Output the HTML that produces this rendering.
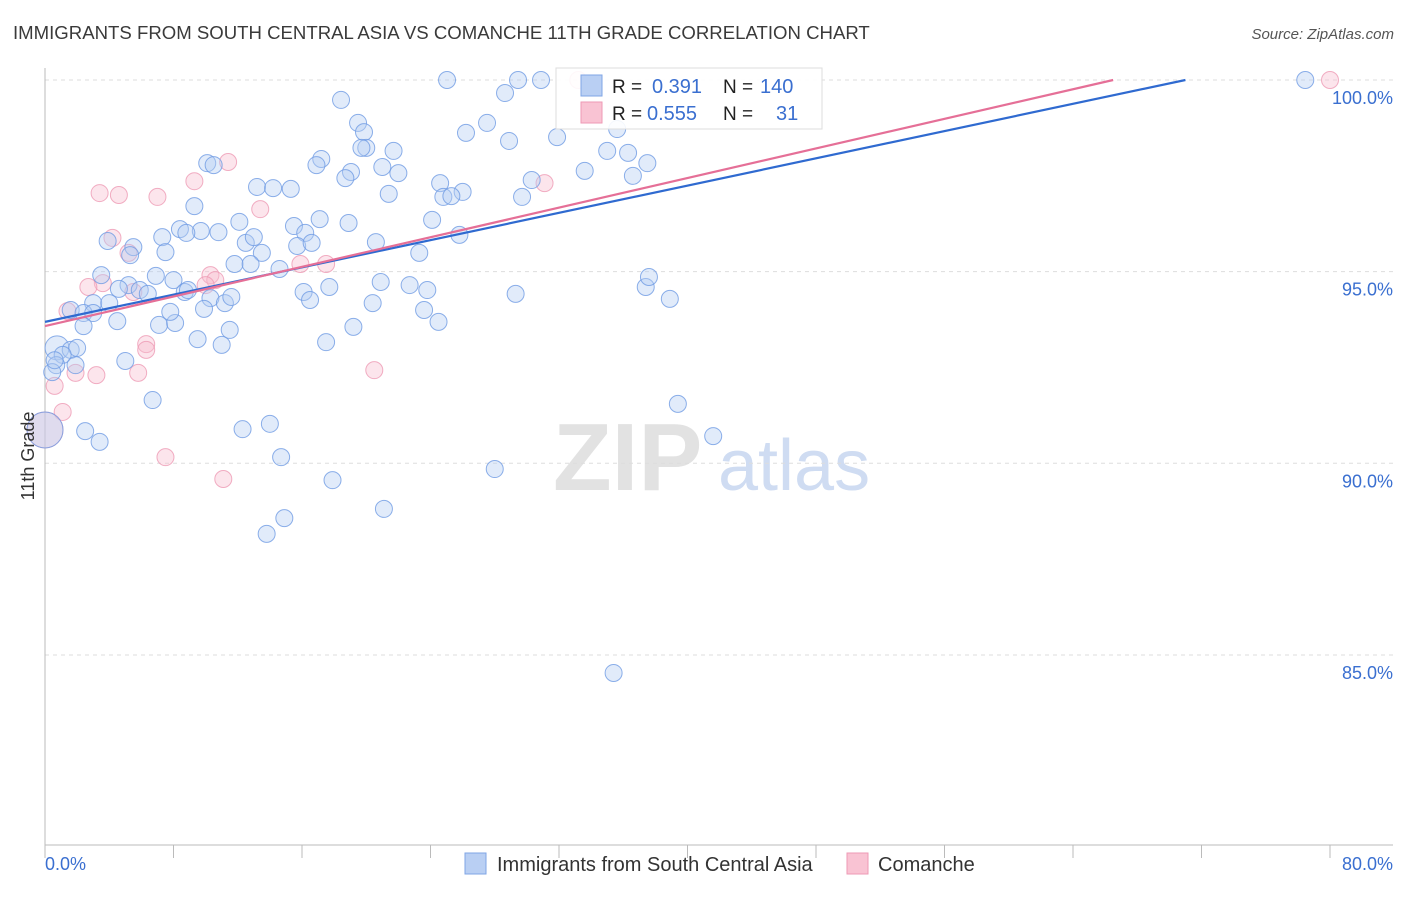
<!DOCTYPE html>
<html><head><meta charset="utf-8"><style>
body{margin:0;background:#fff;font-family:"Liberation Sans",sans-serif;}
svg text{font-family:"Liberation Sans",sans-serif;}
</style></head><body>
<svg id="chart" width="1406" height="892" xmlns="http://www.w3.org/2000/svg">
<text x="13" y="39" font-size="18.6" fill="#3a3a3a">IMMIGRANTS FROM SOUTH CENTRAL ASIA VS COMANCHE 11TH GRADE CORRELATION CHART</text>
<text x="1394" y="39" font-size="15" fill="#555" text-anchor="end" font-style="italic">Source: ZipAtlas.com</text>
<g>
<text x="553" y="490" font-size="96" fill="#e2e2e2" font-family="Liberation Serif" font-weight="bold">ZIP</text>
<text x="718" y="490" font-size="72" fill="#cfdcf2">atlas</text>
</g>
<g id="grid"></g>
<g id="axes"></g>
<g id="pts"></g>
<g id="lines"></g>
<text transform="translate(34,456) rotate(-90)" font-size="18" fill="#333" text-anchor="middle">11th Grade</text>
<g>
<rect x="556" y="68" width="266" height="61" fill="#fff" fill-opacity="0.9" stroke="#ddd"/>
<rect x="581" y="75" width="21" height="21" fill="#b9cff3" stroke="#7fa5e6"/>
<rect x="581" y="102" width="21" height="21" fill="#f9c3d3" stroke="#ee9ab4"/>
<text x="612" y="93" font-size="19" fill="#222">R =</text>
<text x="652" y="93" font-size="20" fill="#3a6fd0">0.391</text>
<text x="723" y="93" font-size="19" fill="#222">N =</text>
<text x="760" y="93" font-size="20" fill="#3a6fd0">140</text>
<text x="612" y="120" font-size="19" fill="#222">R =</text>
<text x="647" y="120" font-size="20" fill="#3a6fd0">0.555</text>
<text x="723" y="120" font-size="19" fill="#222">N =</text>
<text x="776" y="120" font-size="20" fill="#3a6fd0">31</text>
</g>
<g>
<rect x="465" y="853" width="21" height="21" fill="#b9cff3" stroke="#7fa5e6"/>
<text x="497" y="871" font-size="20" fill="#333">Immigrants from South Central Asia</text>
<rect x="847" y="853" width="21" height="21" fill="#f9c3d3" stroke="#ee9ab4"/>
<text x="878" y="871" font-size="20" fill="#333">Comanche</text>
</g>
</svg>
<script>
const yTicks=[100,95,90,85];
const yTickLabels=["100.0%","95.0%","90.0%","85.0%"];
const xTicks=[0,8,16,24,32,40,48,56,64,72,80];
const blueX=[25.03,29.45,30.88,78.46,18.43,28.64,27.52,19.49,19.86,26.21,28.89,31.88,35.62,35.0,36.3,37.5,33.6,36.6,21.7,21.0,22.0,20.0,19.7,17.2,16.9,19.05,18.7,10.1,10.5,13.2,14.2,15.3,21.4,24.6,26.0,24.8,25.3,30.3,29.7,9.3,12.1,8.4,9.7,8.8,10.8,7.3,3.9,5.5,5.3,7.5,12.5,13.0,13.5,11.8,12.8,14.6,15.5,16.2,15.7,16.6,17.1,18.9,20.6,24.1,25.8,23.3,20.9,22.7,23.8,20.4,23.6,24.5,29.3,37.4,37.6,38.9,17.7,16.1,16.5,19.2,17.5,3.5,5.2,6.9,8.0,5.9,6.4,4.6,3.0,4.0,8.7,10.3,11.2,11.6,8.9,1.6,2.4,3.0,4.5,7.1,8.1,2.4,7.8,9.9,11.5,9.5,11.0,0.75,1.6,2.0,1.1,0.7,0.45,5.0,6.7,2.5,3.4,12.3,14.0,14.7,17.9,21.1,13.8,14.9,28.0,39.4,41.6,35.4,0,0.6,1.9];
const blueY=[100,100,100,100,99.48,99.66,98.88,98.88,98.64,98.62,98.41,98.51,98.72,98.15,98.10,97.83,97.63,97.50,98.15,97.73,97.57,98.23,98.23,97.94,97.78,97.60,97.44,97.83,97.78,97.21,97.18,97.16,97.03,97.31,97.08,96.95,96.97,97.39,96.95,96.71,96.30,96.11,96.06,96.01,96.03,95.90,95.80,95.64,95.43,95.51,95.75,95.90,95.49,95.20,95.20,95.07,96.19,96.01,95.67,95.75,96.37,96.27,95.77,96.35,95.96,95.49,94.73,94.65,94.52,94.18,94.00,93.69,94.42,94.60,94.86,94.29,94.60,94.47,94.26,93.56,93.16,94.91,94.65,94.89,94.78,94.52,94.42,94.55,94.18,94.18,94.47,94.31,94.18,94.34,94.52,94.00,93.92,93.92,93.71,93.61,93.66,93.58,93.95,94.03,93.48,93.24,93.09,93.01,92.96,93.01,92.83,92.56,92.38,92.67,91.65,90.84,90.56,90.89,91.03,90.16,89.56,88.81,88.16,88.57,89.85,91.55,90.71,84.53,90.87,92.69,92.56];
const pinkX=[80,33.2,11.4,9.3,3.4,4.6,7.0,13.4,4.2,5.2,10.3,10.6,15.9,17.5,3.6,2.7,5.5,10.0,1.4,6.3,6.3,5.8,3.2,1.9,0.6,1.1,20.5,7.5,11.1,31.1,0];
const pinkY=[100,100,97.86,97.36,97.05,97.0,96.95,96.63,95.88,95.49,94.91,94.78,95.2,95.2,94.70,94.6,94.47,94.65,93.97,93.11,92.96,92.36,92.30,92.36,92.02,91.34,92.43,90.16,89.59,97.31,90.87];
const blueTrend=[93.69,100];const blueTrendEndX=71.0;
const pinkTrend=[93.58,100];const pinkTrendEndX=66.5;
const NS="http://www.w3.org/2000/svg";
const xs=v=>45+v/80*1285;
const ys=v=>80+(100-v)*38.33;
function mk(tag,attrs,parent){const e=document.createElementNS(NS,tag);for(const k in attrs)e.setAttribute(k,attrs[k]);document.getElementById(parent).appendChild(e);return e;}
yTicks.forEach((t,i)=>{
 const l=mk('line',{x1:45,x2:1393,y1:ys(t),y2:ys(t),stroke:'#ddd','stroke-dasharray':'4,4'},'grid');
 
 
 const tx=mk('text',{x:1393,y:ys(t)+24,'font-size':18,fill:'#3a6fd0','text-anchor':'end'},'grid');
 tx.textContent=yTickLabels[i];
 
 
});
mk('line',{x1:45,x2:45,y1:68,y2:845,stroke:'#bbb'},'axes');
mk('line',{x1:45,x2:1393,y1:845,y2:845,stroke:'#bbb'},'axes');
xTicks.forEach(t=>{const l=mk('line',{x1:xs(t),x2:xs(t),y1:845,y2:858,stroke:'#bbb'},'axes');
 
 });
const xl0=mk('text',{x:45,y:870,'font-size':18,fill:'#3a6fd0'},'axes');xl0.textContent='0.0%';


const xl1=mk('text',{x:1393,y:870,'font-size':18,fill:'#3a6fd0','text-anchor':'end'},'axes');xl1.textContent='80.0%';


function dots(X,Y,fill,stroke,name){X.forEach((x,i)=>{
 let r=8.5; if(x===0)r=18; else if(name==='blue-point'&&i===107)r=12;
 const c=mk('circle',{cx:xs(x),cy:ys(Y[i]),r:r,fill:fill,'fill-opacity':0.4,stroke:stroke,'stroke-opacity':0.8,'stroke-width':1},'pts');
 
 
});}
dots(pinkX,pinkY,'#f7bfd0','#ee9ab4','pink-point');
dots(blueX,blueY,'#b5cdf3','#6f9be3','blue-point');
const bl=mk('line',{x1:xs(0),y1:ys(blueTrend[0]),x2:xs(blueTrendEndX),y2:ys(blueTrend[1]),stroke:'#2f6ad0','stroke-width':2.2},'lines');


const pl=mk('line',{x1:xs(0),y1:ys(pinkTrend[0]),x2:xs(pinkTrendEndX),y2:ys(pinkTrend[1]),stroke:'#e56f97','stroke-width':2.2},'lines');


</script>
</body></html>
